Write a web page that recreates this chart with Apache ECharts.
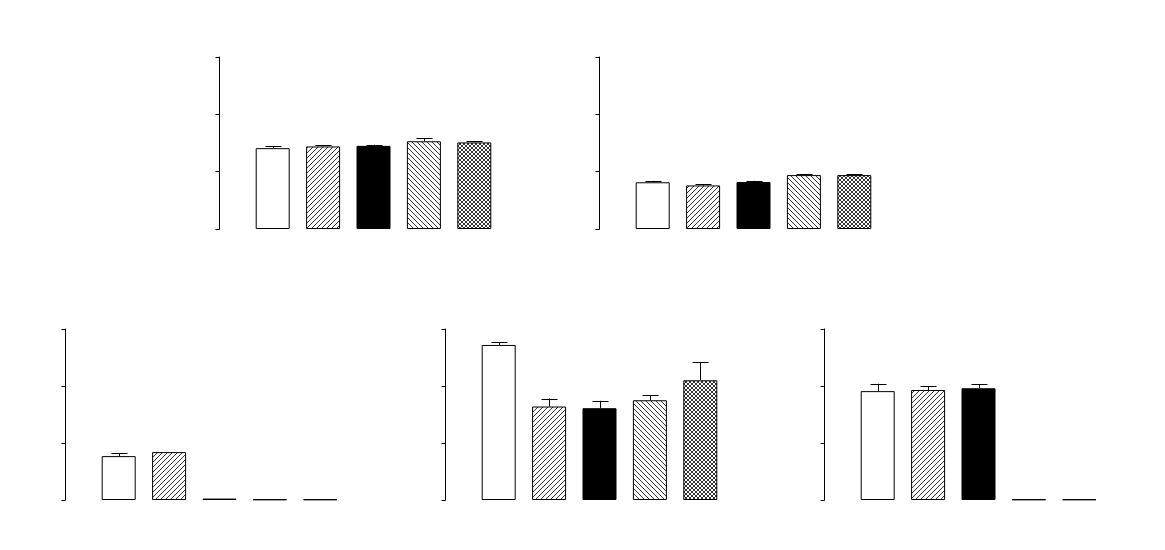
<!DOCTYPE html>
<html><head><meta charset="utf-8">
<script src="https://cdn.jsdelivr.net/npm/echarts@6/dist/echarts.min.js"></script>
<style>html,body{margin:0;padding:0;background:#fff;}#c{width:1165px;height:550px;}</style>
</head><body><div id="c"></div>
<script>
const categories = ['G1', 'G2', 'G3', 'G4', 'G5'];
const yTicks = [0, 1, 2, 3];
const panel1 = [1.41, 1.44, 1.45, 1.53, 1.51];
const panel1Err = [0.03, 0.02, 0.02, 0.05, 0.02];
const panel2 = [0.815, 0.76, 0.82, 0.94, 0.94];
const panel2Err = [0.025, 0.02, 0.02, 0.015, 0.015];
const panel3 = [0.77, 0.84, 0.025, 0.01, 0.01];
const panel3Err = [0.05, 0, 0, 0, 0];
const panel4 = [2.72, 1.64, 1.61, 1.75, 2.10];
const panel4Err = [0.05, 0.14, 0.13, 0.09, 0.32];
const panel5 = [1.91, 1.93, 1.96, 0.01, 0.01];
const panel5Err = [0.13, 0.07, 0.07, 0, 0];

const panels = [[panel1, panel1Err], [panel2, panel2Err], [panel3, panel3Err], [panel4, panel4Err], [panel5, panel5Err]];
// axis x position, top, height
const layout = [[219.5, 57, 172], [599.5, 57, 172], [65.5, 329, 171], [445.5, 329, 171], [824.5, 329, 171]];

function tile(kind, n) {
  const c = document.createElement('canvas');
  c.width = n; c.height = n;
  const g = c.getContext('2d');
  g.fillStyle = '#fff'; g.fillRect(0, 0, n, n);
  g.fillStyle = '#333333';
  for (let i = 0; i < n; i++) {
    if (kind === 'fwd' || kind === 'cross') g.fillRect(n - 1 - i, i, 1, 1);
    if (kind === 'back' || kind === 'cross') g.fillRect(i, i, 1, 1);
  }
  return { image: c, repeat: 'repeat' };
}
const fills = ['#ffffff', tile('fwd', 5), '#000000', tile('back', 5), tile('cross', 4)];

const grid = [], xAxis = [], yAxis = [], series = [];
panels.forEach(([vals, errs], i) => {
  const [ax, top, h] = layout[i];
  grid.push({ left: ax + 28, top: top, width: 252, height: h, containLabel: false });
  xAxis.push({ type: 'category', gridIndex: i, data: categories, show: true,
    axisLine: { show: false }, axisTick: { show: false }, axisLabel: { show: false } });
  yAxis.push({ type: 'value', gridIndex: i, min: yTicks[0], max: yTicks[yTicks.length - 1], interval: 1,
    offset: 28, position: 'left',
    axisLine: { show: true, lineStyle: { color: '#000', width: 1 } },
    axisTick: { show: true, length: 4, lineStyle: { color: '#000', width: 1 } },
    axisLabel: { show: false }, splitLine: { show: false } });
  series.push({ type: 'bar', xAxisIndex: i, yAxisIndex: i, barWidth: 34, silent: true,
    data: vals.map((v, k) => ({ value: v, itemStyle: { color: fills[k], borderColor: '#000', borderWidth: 1 } })) });
  series.push({ type: 'custom', xAxisIndex: i, yAxisIndex: i, silent: true, z: 1,
    data: vals.map((v, k) => [k, v, v + errs[k]]),
    renderItem: function (params, api) {
      if (api.value(2) - api.value(1) <= 0) return null;
      const p0 = api.coord([api.value(0), api.value(1)]);
      const p1 = api.coord([api.value(0), api.value(2)]);
      const x = Math.round(p0[0]) + 0.5;
      const style = { stroke: '#000', lineWidth: 1 };
      return { type: 'group', children: [
        { type: 'line', shape: { x1: x, y1: p0[1], x2: x, y2: p1[1] }, style: style },
        { type: 'line', shape: { x1: x - 8, y1: Math.round(p1[1]) + 0.5, x2: x + 8, y2: Math.round(p1[1]) + 0.5 }, style: style }
      ] };
    } });
});

const chart = echarts.init(document.getElementById('c'), null, { renderer: 'canvas' });
chart.setOption({ animation: false, backgroundColor: '#fff', grid, xAxis, yAxis, series });
</script></body></html>
